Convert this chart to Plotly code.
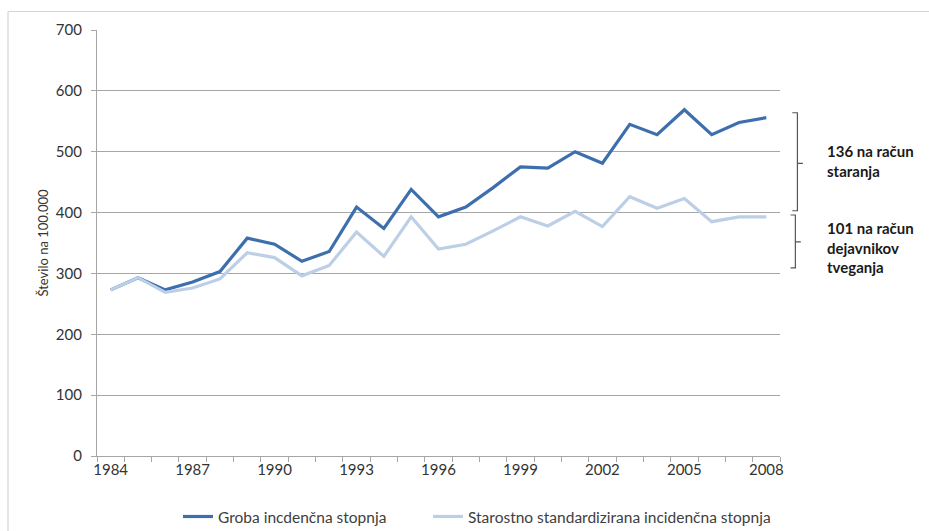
import plotly.graph_objects as go

# Incidence per 100,000 population, 1984-2008
years = list(range(1984, 2009))
crude_rate = [273, 293, 273, 286, 303, 358, 348, 320, 336, 409, 374, 438, 393,
              409, 441, 475, 473, 500, 481, 545, 528, 569, 528, 548, 556]
age_std_rate = [273, 293, 269, 276, 291, 334, 326, 296, 313, 368, 328, 393, 340,
                348, 370, 393, 378, 402, 377, 426, 407, 423, 385, 393, 393]

y_ticks = [0, 100, 200, 300, 400, 500, 600, 700]
x_label_years = [1984, 1987, 1990, 1993, 1996, 1999, 2002, 2005, 2008]

# Brackets to the right of the last year: (bottom, middle, top) on the value axis
bracket_ageing = (403, 481, 564)
bracket_risk = (309, 352, 396)
label_ageing = "136 na račun<br>staranja"
label_risk = "101 na račun<br>dejavnikov<br>tveganja"

DARK = "#3d6fae"
LIGHT = "#bccfe7"
GRID = "#a6a6a6"
FONT = "Lato, 'Open Sans', sans-serif"

fig = go.Figure()
fig.add_trace(go.Scatter(
    x=years, y=crude_rate, mode="lines", name="Groba incdenčna stopnja",
    line=dict(color=DARK, width=3.2), legend="legend",
))
fig.add_trace(go.Scatter(
    x=years, y=age_std_rate, mode="lines",
    name="Starostno standardizirana incidenčna stopnja",
    line=dict(color=LIGHT, width=3.2), legend="legend2",
))

# Right-side brackets drawn in paper x, data y
def bracket(lo, mid, hi, xv, xl):
    return dict(
        type="path", xref="paper", yref="y",
        path=(f"M {xl},{hi} L {xv},{hi} L {xv},{lo} L {xl},{lo} "
              f"M {xv},{mid} L {xv + 0.008},{mid}"),
        line=dict(color="#555555", width=1.2),
    )

shapes = [
    bracket(*bracket_ageing, 1.0255, 1.018),
    bracket(*bracket_risk, 1.0225, 1.0155),
    # outer frame (top and left edges)
    dict(type="line", xref="paper", yref="paper", x0=-0.1303, x1=1.3,
         y0=1.0434, y1=1.0434, line=dict(color="#d4d4d4", width=1.2)),
    dict(type="line", xref="paper", yref="paper", x0=-0.1303, x1=-0.1303,
         y0=1.0434, y1=-0.25, line=dict(color="#d4d4d4", width=1.2)),
]

annotations = [
    dict(text="<b>" + label_ageing + "</b>", xref="paper", yref="y",
         x=1.066, y=bracket_ageing[1] + 4, xanchor="left", yanchor="middle",
         align="left", showarrow=False,
         font=dict(family=FONT, size=15, color="#1a1a1a")),
    dict(text="<b>" + label_risk + "</b>", xref="paper", yref="y",
         x=1.066, y=bracket_risk[1] - 10, xanchor="left", yanchor="middle",
         align="left", showarrow=False,
         font=dict(family=FONT, size=15, color="#1a1a1a")),
]

legend_common = dict(orientation="h", y=-0.143, xanchor="left", yanchor="middle",
                     font=dict(size=15.5, color="#404040"),
                     bgcolor="rgba(0,0,0,0)")

fig.update_layout(
    width=929, height=531,
    margin=dict(l=97, r=149, t=29.5, b=75, autoexpand=False),
    paper_bgcolor="white", plot_bgcolor="white",
    font=dict(family=FONT, size=15, color="#333333"),
    showlegend=True,
    legend=dict(x=0.1186, **legend_common),
    legend2=dict(x=0.4846, **legend_common),
    shapes=shapes,
    annotations=annotations,
    xaxis=dict(
        range=[1983.5, 2008.5], tickmode="array", tickvals=x_label_years,
        ticks="", showgrid=False, zeroline=False,
        showline=True, linecolor=GRID, linewidth=1.2,
        minor=dict(tickmode="linear", tick0=1983.5, dtick=1, ticks="outside",
                   ticklen=5, tickcolor=GRID, tickwidth=1.2, showgrid=False),
        tickfont=dict(size=15, color="#333333"),
    ),
    yaxis=dict(
        range=[0, 700], tickmode="array", tickvals=y_ticks,
        ticks="outside", ticklen=5, tickcolor=GRID, tickwidth=1.2,
        showgrid=True, gridcolor=GRID, gridwidth=1.2, zeroline=False,
        showline=True, linecolor=GRID, linewidth=1.2,
        tickfont=dict(size=15, color="#333333"), ticklabelstandoff=6,
        title=dict(text="Število na 100.000", standoff=4,
                   font=dict(size=13, color="#333333")),
    ),
)

fig.write_html("out.html")
